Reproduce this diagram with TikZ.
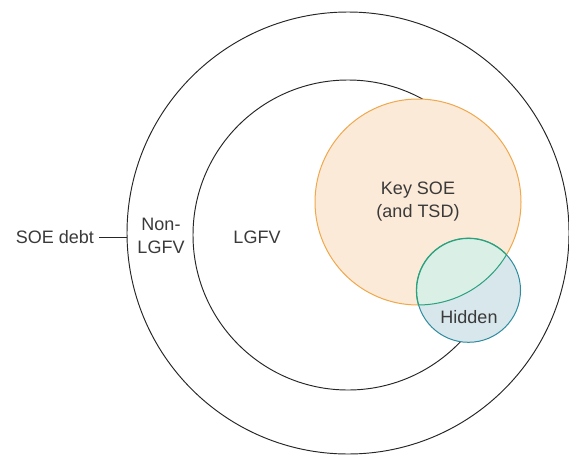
\documentclass[tikz,border=0pt]{standalone}
\usepackage{fontspec}
\setmainfont{Liberation Sans}
\definecolor{txt}{HTML}{3A3A3A}
\definecolor{orstroke}{HTML}{F0A84C}
\definecolor{orfill}{HTML}{FCEAD8}
\definecolor{hdstroke}{HTML}{2E8BA0}
\definecolor{hdfill}{HTML}{D8E7EC}
\definecolor{grstroke}{HTML}{2AA27C}
\definecolor{grfill}{HTML}{DAF0E7}
\tikzset{
  ring/.style={draw=black!85, line width=0.95pt},
  lbl/.style={text=txt, font=\fontsize{18}{23}\selectfont, align=center, inner sep=0pt},
}
\begin{document}
\begin{tikzpicture}[x=1pt,y=-1pt]
\useasboundingbox[fill=white] (0,0) rectangle (569,455);
\begin{scope}
\clip (0,0) rectangle (569,455);
% outer and inner rings
\draw[ring] (348,233) circle[radius=221pt];
\draw[ring] (348,235) circle[radius=155pt];
\coordinate (outerL) at (127,234);
% key SOE circle
\path[fill=orfill, draw=orstroke, line width=1pt] (418,202) circle[radius=103pt];
% hidden circle
\path[fill=hdfill, draw=hdstroke, line width=1pt] (468.5,290.3) circle[radius=52pt];
% overlap
\begin{scope}
\clip (418,202) circle[radius=103pt];
\fill[grfill] (468.5,290.3) circle[radius=52pt];
\draw[grstroke, line width=1.3pt] (468.5,290.3) circle[radius=52pt];
\end{scope}
\begin{scope}
\clip (468.5,290.3) circle[radius=52pt];
\draw[grstroke, line width=1pt] (418,202) circle[radius=103pt];
\end{scope}
\end{scope}
% labels
\node[lbl, anchor=east] (soe) at (94,237) {SOE debt};
\draw[black!85, line width=0.95pt] ([xshift=5pt]soe.east) -- (outerL |- soe.east);
\node[lbl] (nonlgfv) at (161,236) {Non-\\LGFV};
\node[lbl] (lgfv) at (257,237) {LGFV};
\node[lbl] (keysoe) at (418,202) {Key SOE\\(and TSD)};
\node[lbl] (hidden) at (469,317) {Hidden};
\end{tikzpicture}
\end{document}
